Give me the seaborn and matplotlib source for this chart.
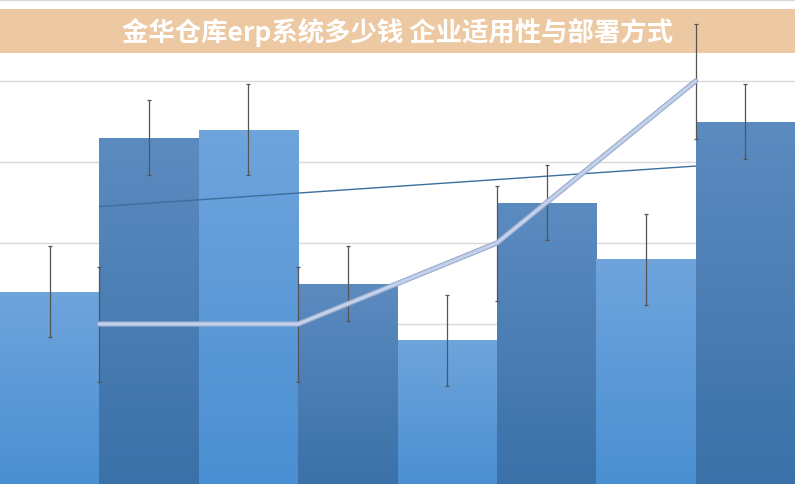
import numpy as np
import pandas as pd
import matplotlib
matplotlib.use("Agg")
import matplotlib.pyplot as plt
import matplotlib.patheffects as pe
from matplotlib.patches import Rectangle
import seaborn as sns

# data
categories = ["项目1", "项目2", "项目3", "项目4", "项目5", "项目6", "项目7", "项目8"]
bar_values = [48, 86, 88, 50, 36, 70, 56, 90]
bar_errors = [11.2, 9.3, 11.2, 9.3, 11.2, 9.3, 11.2, 9.2]

line_x = [0.5, 2.5, 4.5, 6.5]
line_values = [40, 40, 60, 100]
line_errors = [14.2, 14.2, 14.2, 14.2]

trend_x = [0.5, 6.5]
trend_values = [69, 79]

title = "金华仓库erp系统多少钱 企业适用性与部署方式"

sns.set_theme(style="white")
plt.rcParams['font.family'] = ['Noto Sans CJK SC', 'DejaVu Sans']

light_top, light_bot = "#6fa4dc", "#4a8fd2"
dark_top, dark_bot = "#5c8bc0", "#3a71a8"

fig = plt.figure(figsize=(7.95, 4.85), dpi=100)
ax = fig.add_axes([0, 0, 1, 1])

df = pd.DataFrame({"cat": categories, "val": bar_values})
palette = [light_bot if i % 2 == 0 else dark_bot for i in range(len(categories))]
sns.barplot(data=df, x="cat", y="val", hue="cat", palette=palette, width=1.0,
            legend=False, ax=ax, zorder=2, linewidth=0)

ax.set_xlim(-0.5, 7.5)
ax.set_ylim(0.5, 120.25)

# vertical gradient inside each bar
for i, p in enumerate(ax.patches):
    top, bot = (light_top, light_bot) if i % 2 == 0 else (dark_top, dark_bot)
    c1 = np.array(matplotlib.colors.to_rgb(top))
    c2 = np.array(matplotlib.colors.to_rgb(bot))
    t = np.linspace(0, 1, 256)[:, None]
    grad = (c1 * (1 - t) + c2 * t)[:, None, :]
    x0, w = p.get_x(), p.get_width()
    h = p.get_height()
    im = ax.imshow(grad, extent=[x0, x0 + w, 0, h], origin="upper",
                   aspect="auto", zorder=2.1)
    im.set_clip_path(p)

centers = [p.get_x() + p.get_width() / 2 for p in ax.patches]
ax.errorbar(centers, bar_values, yerr=bar_errors, fmt="none", ecolor="#555555",
            elinewidth=0.9, capsize=1.5, capthick=0.9, zorder=4)

# grid
for yv in range(20, 121, 20):
    ax.axhline(yv, color="#d9d9d9", linewidth=1, zorder=0)

# title band
ax.add_patch(Rectangle((0, 1 - 54 / 485), 1, 44 / 485, transform=ax.transAxes,
                       facecolor="#ecc9a2", edgecolor="none", zorder=1.5))
ax.text(0.5, 1 - 33 / 485, title, transform=ax.transAxes, ha="center", va="center",
        color="white", fontsize=19, fontweight=900, zorder=6)

# trend line
sns.lineplot(x=trend_x, y=trend_values, color="#3d6f9e", linewidth=1, ax=ax, zorder=3)

# main line with error bars
ax.errorbar(line_x, line_values, yerr=line_errors, fmt="none", ecolor="#555555",
            elinewidth=0.9, capsize=1.5, capthick=0.9, zorder=4)
sns.lineplot(x=line_x, y=line_values, color="#c3d1ea", linewidth=2.2, ax=ax, zorder=5,
             path_effects=[pe.Stroke(linewidth=3.8, foreground="#98abcd"), pe.Normal()])

ax.set_xlabel("")
ax.set_ylabel("")
ax.set_xticks([])
ax.set_yticks([])
for s in ax.spines.values():
    s.set_visible(False)

fig.savefig("out.png", dpi=100)
